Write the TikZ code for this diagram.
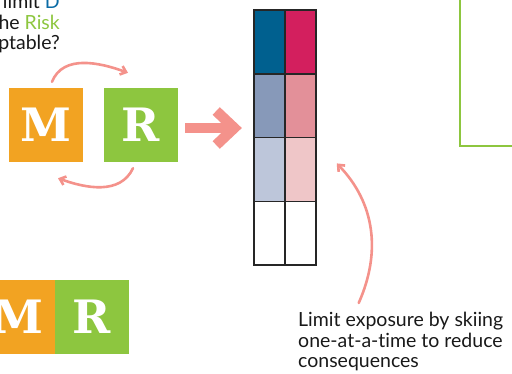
\documentclass[tikz,border=0pt]{standalone}
\usepackage{fontspec}
\setmainfont{Lato}[Ligatures=NoCommon]
\newfontfamily\letterfont{DejaVu Serif}
\usetikzlibrary{arrows.meta, positioning}

\definecolor{mOrange}{HTML}{F2A322}
\definecolor{rGreen}{HTML}{8DC63F}
\definecolor{salmon}{HTML}{F4928B}
\definecolor{dBlue}{HTML}{0A6BA5}
\definecolor{cellBlueA}{HTML}{00608F}
\definecolor{cellRedA}{HTML}{D31F5E}
\definecolor{cellBlueB}{HTML}{8799B9}
\definecolor{cellRedB}{HTML}{E39099}
\definecolor{cellBlueC}{HTML}{BDC6DA}
\definecolor{cellRedC}{HTML}{EFC6C8}

\begin{document}
\begin{tikzpicture}[
    x=1pt, y=1pt,
    letterbox/.style={minimum size=74pt, inner sep=0pt, text=white, font=\letterfont\bfseries\fontsize{46}{46}\selectfont},
    cell/.style={draw=black!85, line width=1.5pt, minimum width=31pt, minimum height=63.75pt, inner sep=0pt},
    lbl/.style={text=black!90, font=\fontsize{19.5}{20.5}\selectfont, inner sep=0pt},
    curv/.style={-{Straight Barb[angle=80:7pt]}, salmon, line width=2.6pt, line cap=round},
    bigarr/.style={salmon, line width=10.5pt, miter limit=10}
]
\useasboundingbox (0,0) rectangle (512,-373);

% ---------- Question text (cut at the left edge) ----------
\node[lbl, align=right, anchor=north east] (question) at (60,6)
    {limit \textcolor{dBlue}{D}\\the \textcolor{rGreen}{Risk}\\acceptable?};

% ---------- M and R boxes ----------
\node[letterbox, fill=mOrange] (mbox) at (46,-125) {M};
\node[letterbox, fill=rGreen]  (rbox) at (141,-125) {R};

\node[letterbox, fill=mOrange] (mboxlow) at (18,-317) {M};
\node[letterbox, fill=rGreen]  (rboxlow) at (92,-317) {R};

% ---------- Cycle arrows ----------
\draw[curv] ([xshift=6pt,yshift=6pt]mbox.north) to[out=68,in=160]
    ([xshift=-13pt,yshift=15pt]rbox.north);
\draw[curv] ([xshift=-8pt,yshift=-6pt]rbox.south) to[out=-115,in=-20]
    ([xshift=12pt,yshift=-16pt]mbox.south);

% ---------- Big arrow ----------
\draw[bigarr] ([xshift=7pt,yshift=-3pt]rbox.east) -- ++(49,0) coordinate (bigtip);
\draw[bigarr] ([shift={(-18,17)}]bigtip) -- (bigtip) -- ([shift={(-18,-17)}]bigtip);

% ---------- Grid of cells ----------
\foreach \r/\lc/\rc in {1/cellBlueA/cellRedA, 2/cellBlueB/cellRedB, 3/cellBlueC/cellRedC, 4/white/white}{
    \node[cell, fill=\lc] (c\r1) at (269.5,{-10-63.75*(\r-0.5)}) {};
    \node[cell, fill=\rc] (c\r2) at (300.5,{-10-63.75*(\r-0.5)}) {};
}

% ---------- Note and its arrow ----------
\node[lbl, align=left, anchor=north west] (note) at (298,-312)
    {Limit exposure by skiing\\one-at-a-time to reduce\\consequences};
\coordinate (notetip) at ([xshift=20pt,yshift=6pt]c32.east);
\draw[curv] ([xshift=-42pt,yshift=9pt]note.north) to[out=66,in=-46] (notetip);

% ---------- Green frame (cut at the edges) ----------
\draw[rGreen, line width=1.5pt] (460,10) rectangle (560,-146);

\end{tikzpicture}
\end{document}
